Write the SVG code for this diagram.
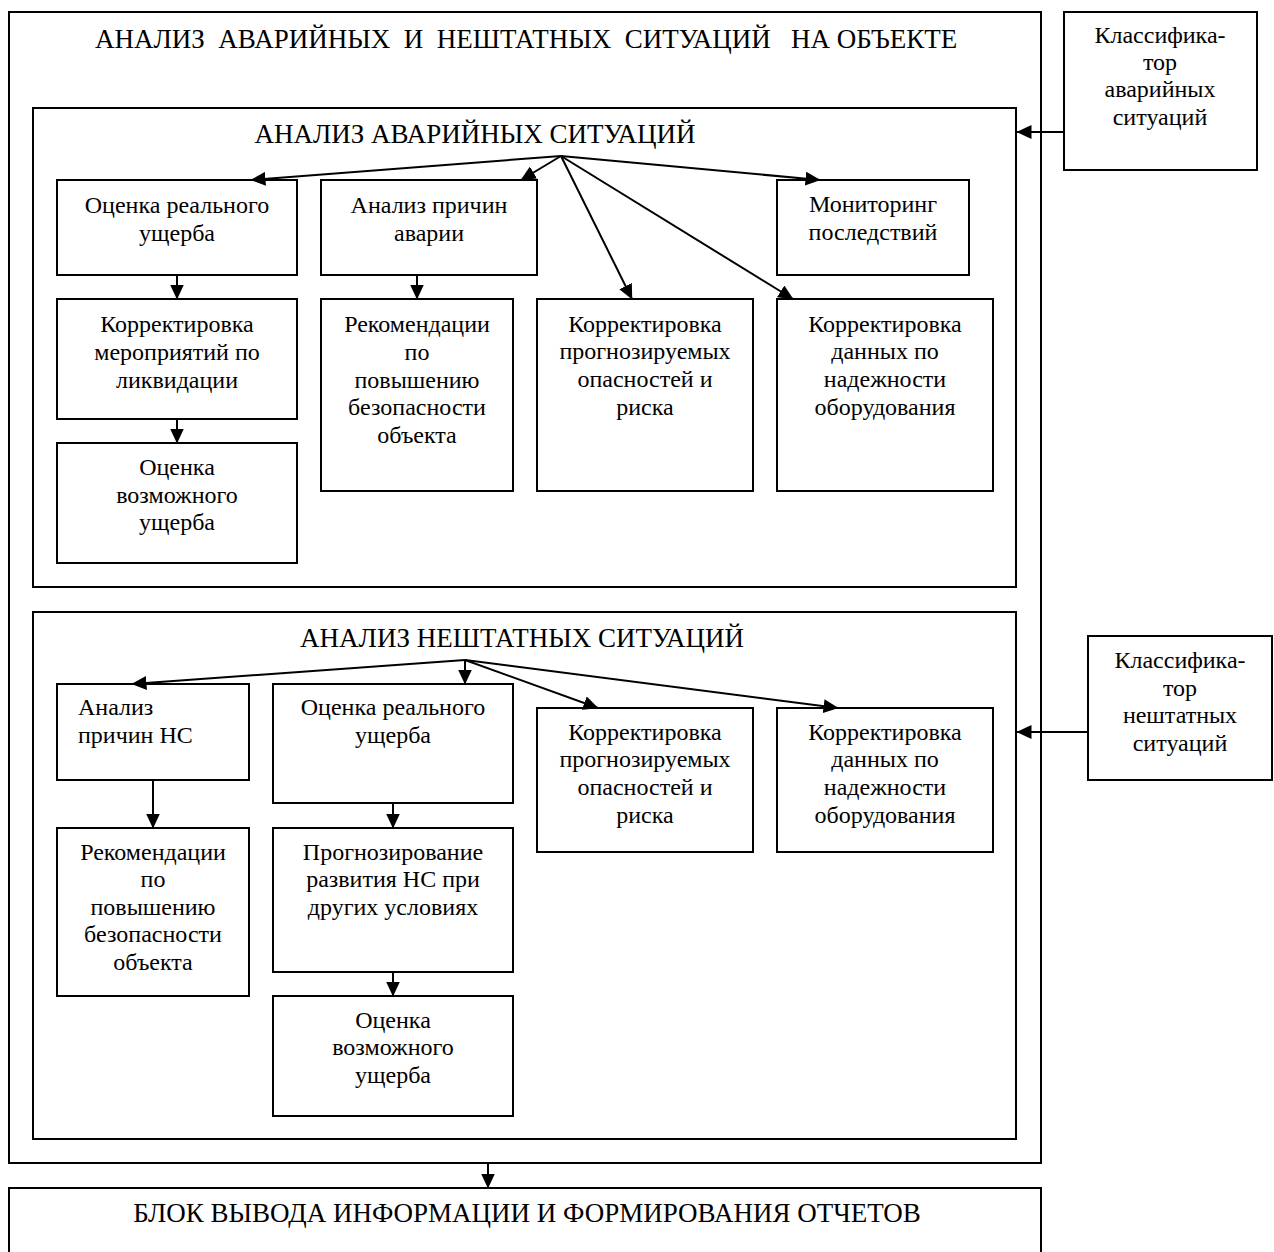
<svg xmlns="http://www.w3.org/2000/svg" width="1274" height="1252" viewBox="0 0 1274 1252">
  <style>
    .box { fill: #ffffff; stroke: #000000; stroke-width: 2; }
    .frame { fill: none; stroke: #000000; stroke-width: 2; }
    .t { font-family: "Liberation Serif", "Times New Roman", serif; font-size: 24px; fill: #000000; text-anchor: middle; }
    .tl { font-family: "Liberation Serif", "Times New Roman", serif; font-size: 24px; fill: #000000; text-anchor: start; }
    .h { font-family: "Liberation Serif", "Times New Roman", serif; font-size: 27px; fill: #000000; }
    .c { fill: none; stroke: #000000; stroke-width: 2; marker-end: url(#arrow); }
  </style>
  <defs>
    <marker id="arrow" markerUnits="userSpaceOnUse" markerWidth="15" markerHeight="14" viewBox="0 0 15 14" refX="14.5" refY="7" orient="auto">
      <path d="M0,0 L15,7 L0,14 z" fill="#000000"/>
    </marker>
  </defs>

  <rect width="1274" height="1252" fill="#ffffff"/>

  <!-- outer frame: whole-object analysis -->
  <g id="object-analysis">
    <rect class="frame" x="9" y="12" width="1032" height="1151"/>
    <text class="h" x="95" y="48" xml:space="preserve">АНАЛИЗ  АВАРИЙНЫХ  И  НЕШТАТНЫХ  СИТУАЦИЙ   НА ОБЪЕКТЕ</text>
  </g>

  <!-- emergency situations section -->
  <g id="emergency-analysis">
    <rect class="frame" x="33" y="108" width="983" height="479"/>
    <text class="h" x="475" y="143" text-anchor="middle">АНАЛИЗ АВАРИЙНЫХ СИТУАЦИЙ</text>
  </g>

  <g id="em-real-damage">
    <rect class="box" x="57" y="180" width="240" height="95"/>
    <text class="t"><tspan x="177" y="213">Оценка реального</tspan><tspan x="177" y="241">ущерба</tspan></text>
  </g>
  <g id="em-causes">
    <rect class="box" x="321" y="180" width="216" height="95"/>
    <text class="t"><tspan x="429" y="213">Анализ причин</tspan><tspan x="429" y="241">аварии</tspan></text>
  </g>
  <g id="em-monitoring">
    <rect class="box" x="777" y="180" width="192" height="95"/>
    <text class="t"><tspan x="873" y="212">Мониторинг</tspan><tspan x="873" y="240">последствий</tspan></text>
  </g>
  <g id="em-liquidation">
    <rect class="box" x="57" y="299" width="240" height="120"/>
    <text class="t"><tspan x="177" y="332">Корректировка</tspan><tspan x="177" y="360">мероприятий по</tspan><tspan x="177" y="388">ликвидации</tspan></text>
  </g>
  <g id="em-recommendations">
    <rect class="box" x="321" y="299" width="192" height="192"/>
    <text class="t"><tspan x="417" y="332">Рекомендации</tspan><tspan x="417" y="360">по</tspan><tspan x="417" y="388">повышению</tspan><tspan x="417" y="415">безопасности</tspan><tspan x="417" y="443">объекта</tspan></text>
  </g>
  <g id="em-hazards">
    <rect class="box" x="537" y="299" width="216" height="192"/>
    <text class="t"><tspan x="645" y="332">Корректировка</tspan><tspan x="645" y="359">прогнозируемых</tspan><tspan x="645" y="387">опасностей и</tspan><tspan x="645" y="415">риска</tspan></text>
  </g>
  <g id="em-reliability">
    <rect class="box" x="777" y="299" width="216" height="192"/>
    <text class="t"><tspan x="885" y="332">Корректировка</tspan><tspan x="885" y="359">данных по</tspan><tspan x="885" y="387">надежности</tspan><tspan x="885" y="415">оборудования</tspan></text>
  </g>
  <g id="em-possible-damage">
    <rect class="box" x="57" y="443" width="240" height="120"/>
    <text class="t"><tspan x="177" y="475">Оценка</tspan><tspan x="177" y="503">возможного</tspan><tspan x="177" y="530">ущерба</tspan></text>
  </g>

  <!-- abnormal situations section -->
  <g id="abnormal-analysis">
    <rect class="frame" x="33" y="612" width="983" height="527"/>
    <text class="h" x="522" y="647" text-anchor="middle">АНАЛИЗ НЕШТАТНЫХ СИТУАЦИЙ</text>
  </g>

  <g id="ab-causes">
    <rect class="box" x="57" y="684" width="192" height="96"/>
    <text class="tl"><tspan x="78" y="715">Анализ</tspan><tspan x="78" y="743">причин НС</tspan></text>
  </g>
  <g id="ab-real-damage">
    <rect class="box" x="273" y="684" width="240" height="119"/>
    <text class="t"><tspan x="393" y="715">Оценка реального</tspan><tspan x="393" y="743">ущерба</tspan></text>
  </g>
  <g id="ab-hazards">
    <rect class="box" x="537" y="708" width="216" height="144"/>
    <text class="t"><tspan x="645" y="740">Корректировка</tspan><tspan x="645" y="767">прогнозируемых</tspan><tspan x="645" y="795">опасностей и</tspan><tspan x="645" y="823">риска</tspan></text>
  </g>
  <g id="ab-reliability">
    <rect class="box" x="777" y="708" width="216" height="144"/>
    <text class="t"><tspan x="885" y="740">Корректировка</tspan><tspan x="885" y="767">данных по</tspan><tspan x="885" y="795">надежности</tspan><tspan x="885" y="823">оборудования</tspan></text>
  </g>
  <g id="ab-recommendations">
    <rect class="box" x="57" y="828" width="192" height="168"/>
    <text class="t"><tspan x="153" y="860">Рекомендации</tspan><tspan x="153" y="887">по</tspan><tspan x="153" y="915">повышению</tspan><tspan x="153" y="942">безопасности</tspan><tspan x="153" y="970">объекта</tspan></text>
  </g>
  <g id="ab-forecast">
    <rect class="box" x="273" y="828" width="240" height="144"/>
    <text class="t"><tspan x="393" y="860">Прогнозирование</tspan><tspan x="393" y="887">развития НС при</tspan><tspan x="393" y="915">других условиях</tspan></text>
  </g>
  <g id="ab-possible-damage">
    <rect class="box" x="273" y="996" width="240" height="120"/>
    <text class="t"><tspan x="393" y="1028">Оценка</tspan><tspan x="393" y="1055">возможного</tspan><tspan x="393" y="1083">ущерба</tspan></text>
  </g>

  <!-- classifiers -->
  <g id="classifier-emergency">
    <rect class="box" x="1064" y="12" width="193" height="158"/>
    <text class="t"><tspan x="1160" y="43">Классифика-</tspan><tspan x="1160" y="70">тор</tspan><tspan x="1160" y="97">аварийных</tspan><tspan x="1160" y="125">ситуаций</tspan></text>
  </g>
  <g id="classifier-abnormal">
    <rect class="box" x="1088" y="636" width="184" height="144"/>
    <text class="t"><tspan x="1180" y="668">Классифика-</tspan><tspan x="1180" y="696">тор</tspan><tspan x="1180" y="723">нештатных</tspan><tspan x="1180" y="751">ситуаций</tspan></text>
  </g>

  <!-- report output block -->
  <g id="report-output">
    <rect class="box" x="9" y="1188" width="1032" height="80"/>
    <text class="h" x="527" y="1222" text-anchor="middle">БЛОК ВЫВОДА ИНФОРМАЦИИ И ФОРМИРОВАНИЯ ОТЧЕТОВ</text>
  </g>

  <!-- connectors -->
  <g id="connectors">
    <line class="c" x1="561" y1="156" x2="251" y2="180"/>
    <line class="c" x1="561" y1="156" x2="521" y2="180"/>
    <line class="c" x1="561" y1="156" x2="632" y2="299"/>
    <line class="c" x1="561" y1="156" x2="793" y2="299"/>
    <line class="c" x1="561" y1="156" x2="820" y2="180"/>
    <line class="c" x1="177" y1="275" x2="177" y2="299"/>
    <line class="c" x1="417" y1="275" x2="417" y2="299"/>
    <line class="c" x1="177" y1="419" x2="177" y2="443"/>

    <line class="c" x1="465" y1="660" x2="132" y2="684"/>
    <line class="c" x1="465" y1="660" x2="465" y2="684"/>
    <line class="c" x1="465" y1="660" x2="598" y2="708"/>
    <line class="c" x1="465" y1="660" x2="838" y2="708"/>
    <line class="c" x1="153" y1="780" x2="153" y2="828"/>
    <line class="c" x1="393" y1="803" x2="393" y2="828"/>
    <line class="c" x1="393" y1="972" x2="393" y2="996"/>

    <line class="c" x1="1064" y1="132" x2="1017" y2="132"/>
    <line class="c" x1="1088" y1="732" x2="1017" y2="732"/>
    <line class="c" x1="488" y1="1163" x2="488" y2="1188"/>
  </g>
</svg>
